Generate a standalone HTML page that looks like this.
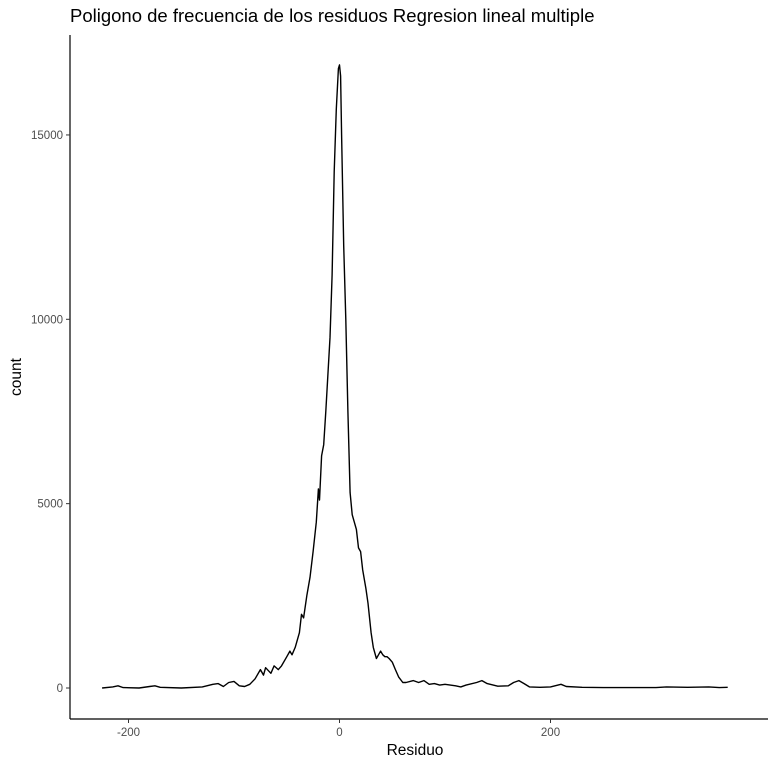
<!DOCTYPE html>
<html><head><meta charset="utf-8"><style>
body{margin:0;background:#fff;font-family:"Liberation Sans",sans-serif}
</style></head><body>
<svg id="chart" width="768" height="768" xmlns="http://www.w3.org/2000/svg" style="display:block">
<rect width="768" height="768" fill="#fff"/>
<text x="70" y="22" font-size="18.5" fill="#000">Poligono de frecuencia de los residuos Regresion lineal multiple</text>
<g id="axes"></g>
<path id="line" fill="none" stroke="#000" stroke-width="1.4" stroke-linejoin="round"/>
<text x="415" y="755" font-size="15.5" text-anchor="middle">Residuo</text>
<text transform="translate(21,377) rotate(-90)" font-size="15.5" text-anchor="middle">count</text>
</svg>
<script>
const residuals=[-225,-215,-210,-205,-190,-180,-175,-170,-150,-130,-120,-115,-110,-105,-100,-95,-90,-85,-80,-75,-72,-70,-65,-62,-58,-55,-50,-47,-45,-42,-38,-36,-34,-31,-28,-25,-22,-20,-19,-17,-15,-13,-11,-9,-7,-5,-3,-1,0,1,2,4,6,8,10,12,14,16,18,20,22,25,27,30,32,35,37,39,41,43,45,47,50,53,56,60,63,70,75,80,85,90,95,100,110,115,120,130,135,140,150,160,165,170,175,180,190,200,210,215,230,250,300,310,330,350,360,368];
const counts=[0,30,60,10,0,40,60,20,0,30,100,120,40,150,180,60,40,100,250,500,350,550,400,600,500,600,850,1000,900,1100,1500,2000,1900,2500,3000,3700,4500,5400,5100,6300,6600,7500,8500,9500,11200,14000,15700,16800,16900,16600,15000,12000,10000,7500,5300,4700,4500,4300,3800,3700,3200,2700,2300,1500,1100,800,900,1000,900,850,850,800,700,500,300,150,150,200,150,200,100,120,80,100,60,30,80,150,200,120,50,60,150,200,120,30,20,30,100,40,20,10,10,30,20,30,10,20];
const xTicks=[-200,0,200];
const yTicks=[0,5000,10000,15000];
const xs=v=>339.5+v*1.055;
const ys=v=>688-v*0.03687;
const NS="http://www.w3.org/2000/svg";
const ax=document.getElementById('axes');
function mk(t,a){const e=document.createElementNS(NS,t);for(const k in a)e.setAttribute(k,a[k]);ax.appendChild(e);return e;}
const xl=mk('line',{x1:70,y1:719,x2:768,y2:719,stroke:'#000','stroke-width':1.2});


const yl=mk('line',{x1:70,y1:35,x2:70,y2:719,stroke:'#000','stroke-width':1.2});


xTicks.forEach(v=>{
 const t=mk('line',{x1:xs(v),y1:719,x2:xs(v),y2:723,stroke:'#333'});
 
 
 const l=mk('text',{x:xs(v),y:736,'font-size':11.5,fill:'#4d4d4d','text-anchor':'middle'});
 l.textContent=v;
 
 
});
yTicks.forEach(v=>{
 const t=mk('line',{x1:66,y1:ys(v),x2:70,y2:ys(v),stroke:'#333'});
 
 
 const l=mk('text',{x:63,y:ys(v)+4,'font-size':11.5,fill:'#4d4d4d','text-anchor':'end'});
 l.textContent=v;
 
 
});
document.getElementById('line').setAttribute('d',residuals.map((r,i)=>(i?'L':'M')+xs(r).toFixed(1)+','+ys(counts[i]).toFixed(1)).join(''));
</script>
</body></html>
